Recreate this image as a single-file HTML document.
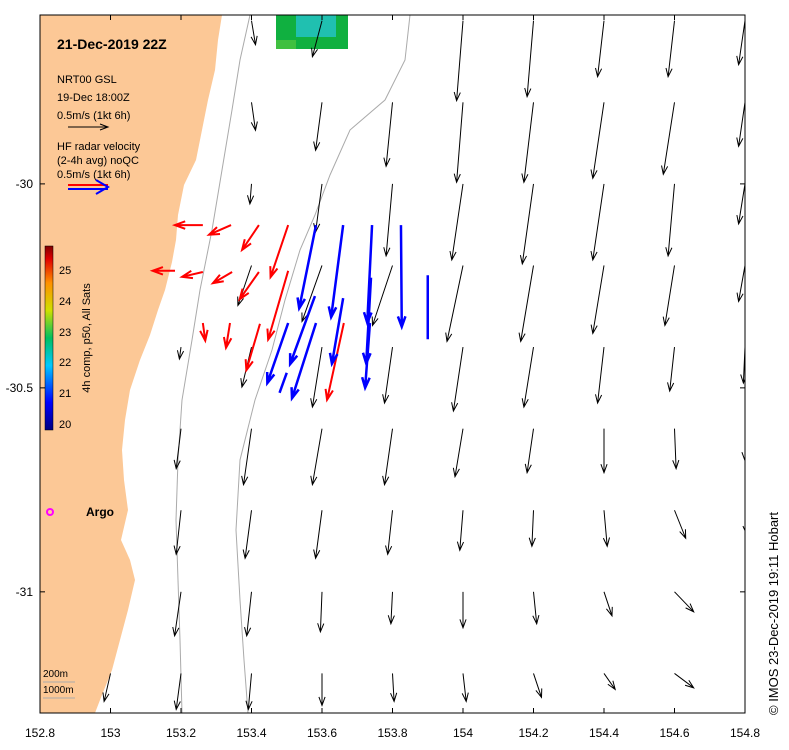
<!DOCTYPE html>
<html><head><meta charset="utf-8"><style>
body{margin:0;background:#fff;}
svg{display:block;font-family:"Liberation Sans",sans-serif;}
</style></head><body>
<svg id="map" width="789" height="750" viewBox="0 0 789 750">
<defs>
<linearGradient id="cb" x1="0" y1="1" x2="0" y2="0">
<stop offset="0" stop-color="#000080"/><stop offset="0.15" stop-color="#0000ff"/><stop offset="0.35" stop-color="#00c8ff"/><stop offset="0.5" stop-color="#00c060"/><stop offset="0.65" stop-color="#d0e000"/><stop offset="0.8" stop-color="#ff9000"/><stop offset="0.93" stop-color="#e00000"/><stop offset="1" stop-color="#800000"/>
</linearGradient>
<clipPath id="plotclip"><rect x="40" y="15" width="705" height="698"/></clipPath>
</defs>
<g clip-path="url(#plotclip)">
<path fill="#fcc896" d="M40,15 L222,15 L218,40 L215,70 L208,100 L202,130 L196,160 L184,185 L178,215 L176,240 L172,262 L165,290 L158,310 L150,335 L140,360 L130,390 L125,420 L122,450 L124,480 L128,510 L121,540 L130,560 L135,580 L128,610 L120,640 L112,670 L100,700 L95,713 L40,713 Z"/>
<path fill="none" stroke="#aaa" stroke-width="1" d="M250,15 L240,60 L232,110 L222,170 L212,230 L200,290 L192,340 L182,400 L178,460 L176,520 L178,580 L180,640 L182,713"/>
<path fill="none" stroke="#aaa" stroke-width="1" d="M410,15 L405,60 L385,100 L350,130 L330,175 L315,215 L300,250 L285,300 L272,350 L255,400 L240,460 L236,530 L240,600 L244,660 L248,713"/>
<g>
<rect x="276" y="15" width="72" height="34" fill="#10b040"/>
<rect x="296" y="15" width="40" height="22" fill="#20c0b0"/>
<rect x="276" y="40" width="20" height="9" fill="#40c040"/>
</g>
<g id="arrows"></g>
</g>
<rect x="40" y="15" width="705" height="698" fill="none" stroke="#000"/>
<g id="axes"></g>
<text x="57" y="49" font-size="14" font-weight="bold">21-Dec-2019 22Z</text>
<g font-size="11">
<text x="57" y="83">NRT00 GSL</text>
<text x="57" y="101">19-Dec 18:00Z</text>
<text x="57" y="119">0.5m/s (1kt 6h)</text>
<line x1="68" y1="127" x2="108" y2="127" stroke="#000"/><path d="M100,124 L108,127 L100,130" fill="none" stroke="#000"/>
<text x="57" y="150">HF radar velocity</text>
<text x="57" y="164">(2-4h avg) noQC</text>
<text x="57" y="178">0.5m/s (1kt 6h)</text>
<line x1="68" y1="185" x2="108" y2="185" stroke="#f00" stroke-width="2"/>
<line x1="68" y1="189" x2="108" y2="189" stroke="#00f" stroke-width="2"/>
<path d="M96,180 L108,187 L96,194" fill="none" stroke="#00f" stroke-width="2"/>
</g>
<g>
<rect x="45" y="246" width="8" height="184" fill="url(#cb)" stroke="#000" stroke-width="0.5"/>
<g font-size="11" text-anchor="start">
<text x="59" y="274">25</text><text x="59" y="305">24</text><text x="59" y="336">23</text><text x="59" y="366">22</text><text x="59" y="397">21</text><text x="59" y="428">20</text>
</g>
<text transform="translate(90,338) rotate(-90)" font-size="11" text-anchor="middle">4h comp, p50, All Sats</text>
</g>
<circle cx="50" cy="512" r="3" fill="none" stroke="#f0f" stroke-width="2"/>
<text x="86" y="516" font-size="12" font-weight="bold">Argo</text>
<g font-size="10">
<text x="43" y="677">200m</text><text x="43" y="693">1000m</text>
<line x1="43" y1="682" x2="75" y2="682" stroke="#aaa"/><line x1="43" y1="698" x2="75" y2="698" stroke="#aaa"/>
</g>
<text transform="translate(778,715) rotate(-90)" font-size="13">© IMOS 23-Dec-2019 19:11 Hobart</text>
</svg>
<script>
const lonMin=152.8, lonMax=154.8, latTop=-29.586, latBot=-31.297;
const xTicks=[152.8,153,153.2,153.4,153.6,153.8,154,154.2,154.4,154.6,154.8];
const xTickLabels=["152.8","153","153.2","153.4","153.6","153.8","154","154.2","154.4","154.6","154.8"];
const yTicks=[-30,-30.5,-31];
const yTickLabels=["-30","-30.5","-31"];
// model currents (black), m/s
const modelLon=[153.0,153.2,153.4,153.6,153.8,154.0,154.2,154.4,154.6,154.8];
const modelLat=[-29.6,-29.8,-30.0,-30.2,-30.4,-30.6,-30.8,-31.0,-31.2];
const modelU=[
 [null,null,0.05,-0.12,null,-0.08,-0.08,-0.08,-0.08,-0.08],
 [null,null,0.05,-0.08,-0.08,-0.08,-0.12,-0.14,-0.14,-0.08],
 [null,null,-0.02,-0.08,-0.08,-0.14,-0.14,-0.14,-0.08,-0.08],
 [null,null,-0.17,-0.25,-0.25,-0.2,-0.16,-0.14,-0.12,-0.08],
 [null,-0.02,-0.12,-0.12,-0.1,-0.12,-0.12,-0.08,-0.06,-0.02],
 [null,-0.06,-0.1,-0.12,-0.1,-0.1,-0.08,0.0,0.02,0.0],
 [null,-0.06,-0.08,-0.08,-0.06,-0.04,-0.02,0.04,0.14,0.02],
 [null,-0.08,-0.06,-0.02,-0.02,0.0,0.04,0.1,0.24,0.1],
 [-0.08,-0.06,-0.04,0.0,0.02,0.04,0.1,0.14,0.24,0.1]];
const modelV=[
 [null,null,-0.3,-0.45,null,-1.0,-0.95,-0.7,-0.7,-0.55],
 [null,null,-0.35,-0.6,-0.8,-1.0,-1.0,-0.95,-0.9,-0.55],
 [null,null,-0.25,-0.6,-0.9,-0.95,-1.0,-0.95,-0.9,-0.5],
 [null,null,-0.5,-0.7,-0.75,-0.95,-0.95,-0.85,-0.75,-0.45],
 [null,-0.15,-0.5,-0.75,-0.7,-0.8,-0.75,-0.7,-0.55,-0.45],
 [null,-0.5,-0.7,-0.7,-0.7,-0.6,-0.55,-0.55,-0.5,-0.4],
 [null,-0.55,-0.6,-0.6,-0.55,-0.5,-0.45,-0.45,-0.35,-0.3],
 [null,-0.55,-0.55,-0.5,-0.4,-0.45,-0.4,-0.3,-0.25,-0.2],
 [-0.35,-0.45,-0.45,-0.4,-0.35,-0.35,-0.3,-0.2,-0.18,-0.15]];
// HF radar (red)
const redLon=[153.262,153.342,153.421,153.504,153.183,153.262,153.345,153.421,153.504,153.262,153.339,153.424,153.662];
const redLat=[-30.101,-30.101,-30.101,-30.101,-30.213,-30.216,-30.216,-30.216,-30.213,-30.341,-30.341,-30.343,-30.341];
const redU=[-0.35,-0.275,-0.21,-0.22,-0.28,-0.26,-0.24,-0.24,-0.25,0.03,-0.05,-0.17,-0.21];
const redV=[0,-0.12,-0.31,-0.65,0,-0.06,-0.14,-0.34,-0.86,-0.22,-0.31,-0.58,-0.96];
// HF radar (blue)
const blueLon=[153.583,153.66,153.742,153.824,153.9,153.58,153.66,153.739,153.504,153.583,153.736,153.5];
const blueLat=[-30.101,-30.101,-30.101,-30.101,-30.224,-30.275,-30.28,-30.23,-30.341,-30.341,-30.341,-30.463];
const blueU=[-0.21,-0.15,-0.06,0.01,0,-0.31,-0.14,-0.06,-0.26,-0.3,-0.06,-0.09];
const blueV=[-1.04,-1.15,-1.22,-1.27,-0.8,-0.85,-0.82,-1.07,-0.75,-0.94,-0.81,-0.25];
const blueHead=[1,1,1,1,0,1,1,1,1,1,1,0];

function xs(lon){return 40+(lon-lonMin)/(lonMax-lonMin)*705;}
function ys(lat){return 15+(latTop-lat)/(latTop-latBot)*698;}
const PXM=80;
const NS="http://www.w3.org/2000/svg";
const g=document.getElementById('arrows');
function arrow(lon,lat,u,v,color,w,name,head){
  const x1=xs(lon),y1=ys(lat),x2=x1+u*PXM,y2=y1-v*PXM;
  const p=document.createElementNS(NS,'path');
  const a=Math.atan2(y2-y1,x2-x1),h=w>1?11:9,s=0.35;
  let d=`M${x1},${y1} L${x2},${y2}`;
  if(head) d+=` M${x2-h*Math.cos(a-s)},${y2-h*Math.sin(a-s)} L${x2},${y2} L${x2-h*Math.cos(a+s)},${y2-h*Math.sin(a+s)}`;
  p.setAttribute('d',d);p.setAttribute('stroke',color);p.setAttribute('stroke-width',w);p.setAttribute('fill','none');
  
  
  g.appendChild(p);
}
for(let r=0;r<modelLat.length;r++)for(let c=0;c<modelLon.length;c++){
  if(modelU[r][c]===null)continue;
  arrow(modelLon[c],modelLat[r],modelU[r][c],modelV[r][c],'#000',1,'model-current-arrow',true);
}
for(let i=0;i<redLon.length;i++)arrow(redLon[i],redLat[i],redU[i],redV[i],'#f00',2,'radar-arrow-red',true);
for(let i=0;i<blueLon.length;i++)arrow(blueLon[i],blueLat[i],blueU[i],blueV[i],'#00f',2.5,'radar-arrow-blue',blueHead[i]===1);

const ax=document.getElementById('axes');
xTicks.forEach((t,i)=>{
  const x=xs(t);
  for(const [y1,y2] of [[15,20],[708,713]]){const l=document.createElementNS(NS,'line');l.setAttribute('x1',x);l.setAttribute('x2',x);l.setAttribute('y1',y1);l.setAttribute('y2',y2);l.setAttribute('stroke','#000');
  
  
  ax.appendChild(l);}
  const tx=document.createElementNS(NS,'text');tx.setAttribute('x',x);tx.setAttribute('y',737);tx.setAttribute('font-size','12');tx.setAttribute('text-anchor','middle');tx.textContent=xTickLabels[i];
  
  
  ax.appendChild(tx);
});
yTicks.forEach((t,i)=>{
  const y=ys(t);
  for(const [x1,x2] of [[40,45],[740,745]]){const l=document.createElementNS(NS,'line');l.setAttribute('x1',x1);l.setAttribute('x2',x2);l.setAttribute('y1',y);l.setAttribute('y2',y);l.setAttribute('stroke','#000');
  
  
  ax.appendChild(l);}
  const tx=document.createElementNS(NS,'text');tx.setAttribute('x',33);tx.setAttribute('y',y+4);tx.setAttribute('font-size','12');tx.setAttribute('text-anchor','end');tx.textContent=yTickLabels[i];
  
  
  ax.appendChild(tx);
});
</script>
</body></html>
